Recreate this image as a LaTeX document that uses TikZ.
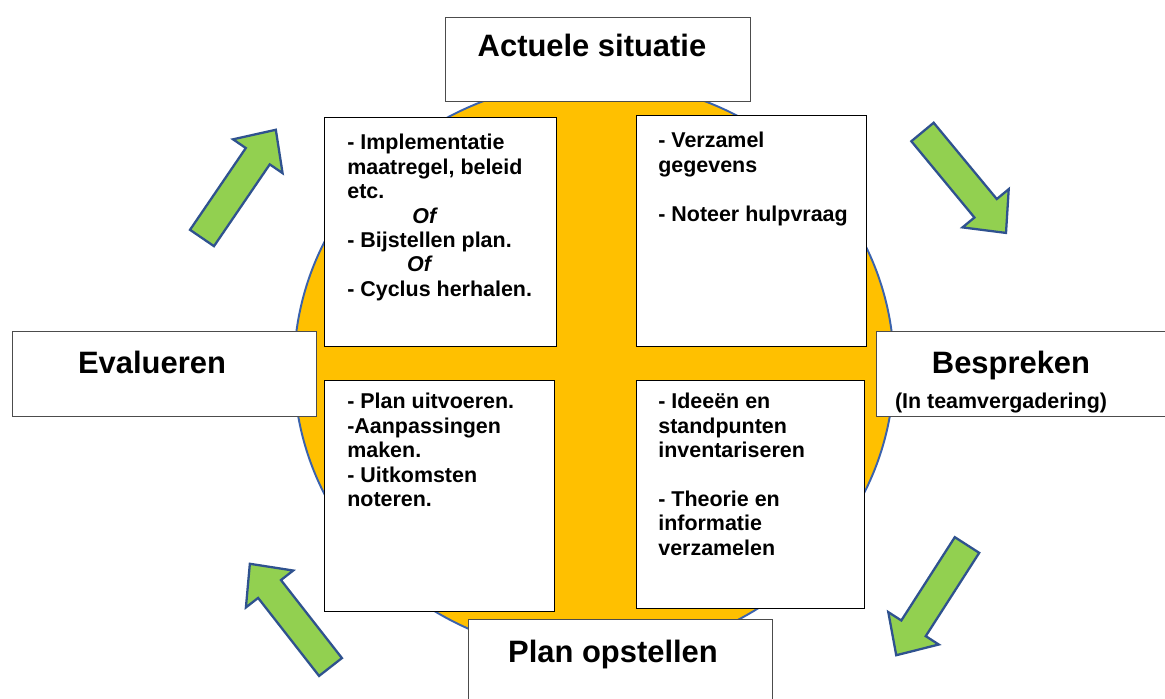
\documentclass[tikz,border=0pt]{standalone}
\usepackage{fontspec}
\setmainfont{Liberation Sans}
\usepackage{tikz}
\usetikzlibrary{positioning}

\definecolor{cycleorange}{HTML}{FFC000}
\definecolor{circleblue}{HTML}{3A62AD}
\definecolor{arrowgreen}{HTML}{92D050}
\definecolor{arrowblue}{HTML}{2F528F}

\begin{document}
\begin{tikzpicture}[x=0.02cm, y=-0.02cm,
    titlebox/.style={draw=black!70, line width=0.8pt, fill=white, anchor=north west, inner sep=0pt},
    innerbox/.style={draw=black, line width=0.8pt, fill=white, anchor=north west, inner sep=0pt},
    titletext/.style={anchor=base, inner sep=0pt, font=\bfseries\fontsize{17.6}{21}\selectfont},
    innertext/.style={anchor=north west, inner sep=0pt, align=left, font=\bfseries\fontsize{12.2}{13.9}\selectfont},
    cyclearrow/.pic={
        \filldraw[fill=arrowgreen, draw=arrowblue, line width=1.3pt]
            (0,-14.5) -- (99,-14.5) -- (99,-30) -- (131,0) -- (99,30) -- (99,14.5) -- (0,14.5) -- cycle;
    }]
    \useasboundingbox (0,0) rectangle (1165,699);
    \clip (0,0) rectangle (1165,699);

    % Orange disc
    \filldraw[fill=cycleorange, draw=circleblue, line width=1.1pt] (594,368) ellipse [x radius=300, y radius=287];

    % Quadrants
    \node[innerbox, minimum width=4.64cm, minimum height=4.58cm] (implement) at (324,117) {};
    \node[innerbox, minimum width=4.60cm, minimum height=4.62cm] (collect) at (636,115) {};
    \node[innerbox, minimum width=4.60cm, minimum height=4.62cm] (execute) at (324,380) {};
    \node[innerbox, minimum width=4.56cm, minimum height=4.56cm] (ideas) at (636,380) {};

    \node[innertext] (implementtext) at ([shift={(23,17)}]implement.north west)
        {- Implementatie\\maatregel, beleid\\etc.\\\hspace*{37pt}\textit{Of}\\- Bijstellen plan.\\\hspace*{34pt}\textit{Of}\\- Cyclus herhalen.};
    \node[innertext] (collecttext) at ([shift={(22,17)}]collect.north west)
        {- Verzamel\\gegevens\\[13.9pt]- Noteer hulpvraag};
    \node[innertext] (executetext) at ([shift={(23,13)}]execute.north west)
        {- Plan uitvoeren.\\-Aanpassingen\\maken.\\- Uitkomsten\\noteren.};
    \node[innertext] (ideastext) at ([shift={(22,13)}]ideas.north west)
        {- Ideeën en\\standpunten\\inventariseren\\[13.9pt]- Theorie en\\informatie\\verzamelen};

    % Phases
    \node[titlebox, minimum width=6.10cm, minimum height=1.68cm] (current) at (445,17) {};
    \node[titletext] (currenttext) at (592,57) {Actuele situatie};
    \node[titlebox, minimum width=6.08cm, minimum height=1.70cm] (evaluate) at (12,331) {};
    \node[titletext] (evaluatetext) at (152,373) {Evalueren};
    \node[titlebox, minimum width=6.20cm, minimum height=1.70cm] (discuss) at (876,331) {};
    \node[titletext] (discusstext) at (1011,373) {Bespreken};
    \node[titletext, font=\bfseries\fontsize{12.2}{14}\selectfont] (teamtext) at (1001,408) {(In teamvergadering)};
    \node[titlebox, minimum width=6.08cm, minimum height=2.0cm] (plan) at (468,619) {};
    \node[titletext] (plantext) at (613,662) {Plan opstellen};

    % Cycle arrows
    \pic[rotate=55.7] at (202,238) {cyclearrow};
    \pic[rotate=-50.4] at (922.5,132) {cyclearrow};
    \pic[rotate=-122.7] at (967,545) {cyclearrow};
    \pic[rotate=128] at (330.5,667) {cyclearrow};
\end{tikzpicture}
\end{document}
